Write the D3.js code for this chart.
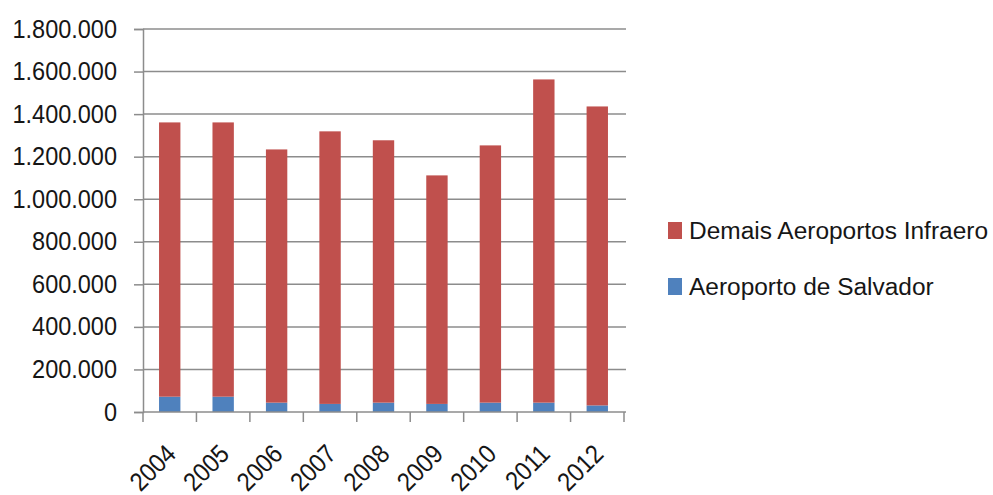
<!DOCTYPE html>
<html>
<head>
<meta charset="utf-8">
<script src="https://cdn.jsdelivr.net/npm/d3@7"></script>
<style>
  body { margin: 0; background: #fff; }
  text { font-family: "Liberation Sans", Arial, sans-serif; fill: #161616; }
</style>
</head>
<body>
<script>
// values (passageiros)
var years = ["2004", "2005", "2006", "2007", "2008", "2009", "2010", "2011", "2012"];
var salvador = [72000, 72000, 44000, 38000, 44000, 38000, 44000, 44000, 31000];
var demais = [1289000, 1289000, 1190000, 1281000, 1233000, 1074000, 1209000, 1519000, 1405000];
var yTicks = [0, 200000, 400000, 600000, 800000, 1000000, 1200000, 1400000, 1600000, 1800000];
var seriesNames = ["Demais Aeroportos Infraero", "Aeroporto de Salvador"];

var width = 993, height = 495;
var margin = {left: 143, top: 29, right: 369, bottom: 83};
var w = width - margin.left - margin.right;
var h = height - margin.top - margin.bottom;

var data = years.map(function(y, i) { return {year: y, salvador: salvador[i], demais: demais[i]}; });
var stacked = d3.stack().keys(["salvador", "demais"])(data);

var x = d3.scaleBand().domain(years).range([0, w]).paddingInner(0.6).paddingOuter(0.3);
var xb = d3.scaleBand().domain(years).range([0, w]);
var y = d3.scaleLinear().domain([0, 1800000]).range([h, 0]);
var color = {salvador: "#4F81BD", demais: "#C0504D"};

var fmt = d3.formatLocale({decimal: ",", thousands: ".", grouping: [3], currency: ["", ""]}).format(",d");

// squeeze text a bit so it looks like the narrow original font
function squeeze(sel, k) {
  sel.each(function() {
    var len = this.getComputedTextLength();
    d3.select(this).attr("textLength", len * k).attr("lengthAdjust", "spacingAndGlyphs");
  });
}

var svg = d3.select("body").append("svg").attr("width", width).attr("height", height);
var g = svg.append("g").attr("transform", "translate(" + margin.left + "," + margin.top + ")");

// gridlines
g.selectAll("line.grid")
  .data(yTicks.slice(1))
  .enter().append("line")
  .attr("x1", 0).attr("x2", w + 2)
  .attr("y1", function(d) { return y(d); }).attr("y2", function(d) { return y(d); })
  .attr("stroke", "#8c8c8c").attr("stroke-width", 1.5);

// bars
g.selectAll("g.layer")
  .data(stacked)
  .enter().append("g")
  .attr("fill", function(d) { return color[d.key]; })
  .selectAll("rect")
  .data(function(d) { return d; })
  .enter().append("rect")
  .attr("x", function(d) { return x(d.data.year); })
  .attr("width", x.bandwidth())
  .attr("y", function(d) { return y(d[1]); })
  .attr("height", function(d) { return y(d[0]) - y(d[1]); });

// y axis
var yAxis = g.append("g")
  .call(d3.axisLeft(y).tickValues(yTicks).tickFormat(function(d) { return fmt(d); }).tickSizeOuter(0).tickSize(9).tickPadding(17));
yAxis.attr("font-family", null).attr("font-size", null);
yAxis.selectAll("line, path").attr("stroke", "#8c8c8c").attr("stroke-width", 1.5);
yAxis.selectAll("text").attr("font-size", 25).attr("fill", "#161616").call(squeeze, 0.94);

// x axis: ticks on band boundaries
var xAxis = g.append("g").attr("transform", "translate(0," + h + ")");
xAxis.append("line").attr("x1", 0).attr("x2", w + 2).attr("stroke", "#8c8c8c").attr("stroke-width", 1.5);
xAxis.selectAll("line.tick")
  .data(years.concat(["end"]))
  .enter().append("line")
  .attr("x1", function(d, i) { return i < years.length ? xb(d) : w; })
  .attr("x2", function(d, i) { return i < years.length ? xb(d) : w; })
  .attr("y1", 0).attr("y2", 10)
  .attr("stroke", "#8c8c8c").attr("stroke-width", 1.5);
xAxis.selectAll("text")
  .data(years)
  .enter().append("text")
  .attr("transform", function(d) { return "translate(" + (xb(d) + xb.bandwidth() / 2 + 1) + ",37) rotate(-45)"; })
  .attr("text-anchor", "end")
  .attr("dy", "0.36em")
  .attr("font-size", 26)
  .text(function(d) { return d; })
  .call(squeeze, 0.9);

// legend
var legend = svg.append("g").attr("transform", "translate(668,222)");
var items = legend.selectAll("g")
  .data([{name: seriesNames[0], key: "demais"}, {name: seriesNames[1], key: "salvador"}])
  .enter().append("g")
  .attr("transform", function(d, i) { return "translate(0," + (i * 56) + ")"; });
items.append("rect").attr("width", 14).attr("height", 17).attr("fill", function(d) { return color[d.key]; });
var lt = items.append("text").attr("x", 21).attr("y", 16.5).attr("font-size", 23).text(function(d) { return d.name; });
var k = 299 / lt.node().getComputedTextLength();
lt.call(squeeze, k);
</script>
</body>
</html>
